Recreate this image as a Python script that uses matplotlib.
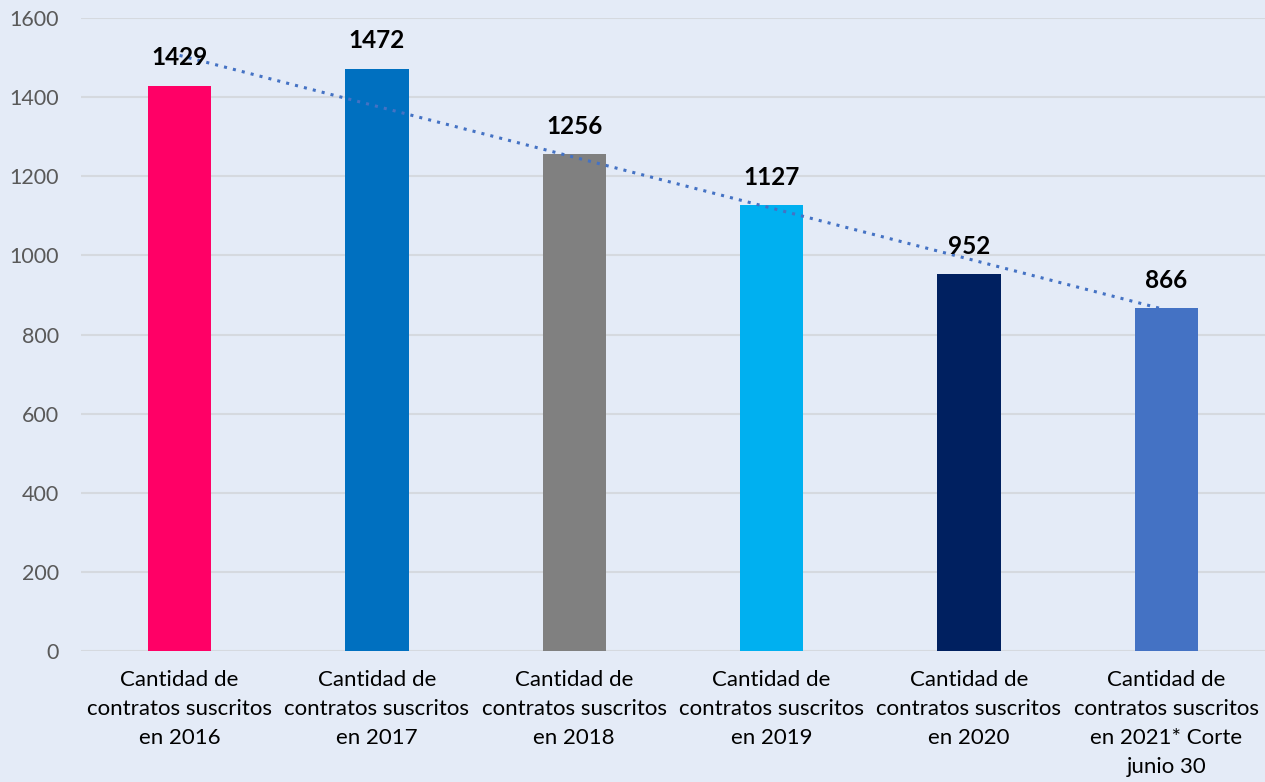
import matplotlib.pyplot as plt
import numpy as np

# Data
categories = [
    "Cantidad de\ncontratos suscritos\nen 2016",
    "Cantidad de\ncontratos suscritos\nen 2017",
    "Cantidad de\ncontratos suscritos\nen 2018",
    "Cantidad de\ncontratos suscritos\nen 2019",
    "Cantidad de\ncontratos suscritos\nen 2020",
    "Cantidad de\ncontratos suscritos\nen 2021* Corte\njunio 30",
]
values = [1429, 1472, 1256, 1127, 952, 866]
colors = ["#FF0066", "#0070C0", "#808080", "#00B0F0", "#002060", "#4472C4"]
yticks = [0, 200, 400, 600, 800, 1000, 1200, 1400, 1600]

bg = "#E4EBF7"
plt.rcParams["font.family"] = ["Lato", "DejaVu Sans"]

fig = plt.figure(figsize=(12.65, 7.82), dpi=100, facecolor=bg)
ax = fig.add_axes([0.064, 0.1675, 0.936, 0.8095], facecolor=bg)

x = np.arange(len(values))
ax.bar(x, values, width=0.32, color=colors, zorder=3)

# linear trend line
coef = np.polyfit(x, values, 1)
ax.plot(x, np.polyval(coef, x), linestyle=(0, (1, 2)), color="#4472C4",
        lw=2.2, zorder=4)

for xi, v in zip(x, values):
    ax.annotate(f"{v}", (xi, v), xytext=(0, 20), textcoords="offset points",
                ha="center", va="center", fontsize=17.5, fontweight="bold",
                color="black", zorder=5)

ax.set_xlim(-0.5, len(values) - 0.5)
ax.set_ylim(0, 1600)
ax.set_yticks(yticks)
ax.set_yticklabels([str(t) for t in yticks], fontsize=15.5, color="#595959")
ax.set_xticks(x)
ax.set_xticklabels(categories, fontsize=16, color="black", linespacing=1.55,
                   va="top")
ax.tick_params(axis="both", length=0)
ax.tick_params(axis="y", pad=16)
ax.tick_params(axis="x", pad=14)
ax.grid(axis="y", color="#D5D9DF", lw=1.5, zorder=0)
for s in ax.spines.values():
    s.set_visible(False)

fig.savefig("out.png", dpi=100, facecolor=bg)
